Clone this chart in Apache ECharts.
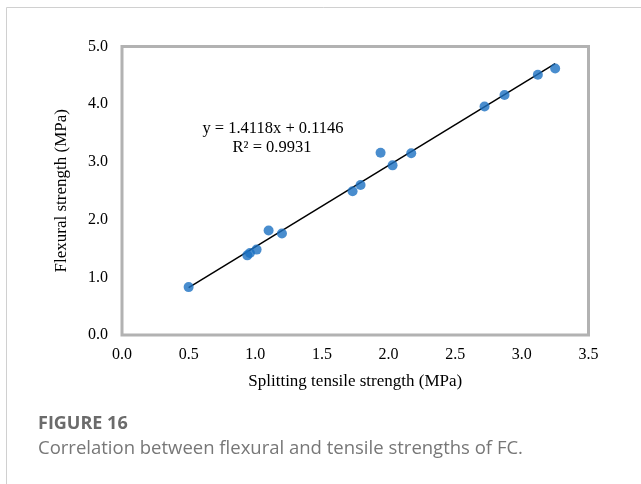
<!DOCTYPE html>
<html>
<head>
<meta charset="utf-8">
<script src="https://cdn.jsdelivr.net/npm/echarts@6/dist/echarts.min.js"></script>
<style>
  html, body { margin: 0; padding: 0; background: #fff; }
  #chart { width: 641px; height: 484px; }
</style>
</head>
<body>
<div id="chart"></div>
<script>
// Splitting tensile strength (MPa) of each specimen
const tensile = [0.50, 0.94, 0.96, 1.01, 1.10, 1.20, 1.73, 1.79, 1.94, 2.03, 2.17, 2.72, 2.87, 3.12, 3.25];
// Flexural strength (MPa) of each specimen
const flexural = [0.83, 1.38, 1.42, 1.48, 1.81, 1.76, 2.49, 2.60, 3.16, 2.94, 3.15, 3.96, 4.16, 4.51, 4.62];
// Linear fit reported on the chart
const slope = 1.4118;
const intercept = 0.1146;
const rSquared = 0.9931;
// Axis tick values
const xTicks = [0.0, 0.5, 1.0, 1.5, 2.0, 2.5, 3.0, 3.5];
const yTicks = [0.0, 1.0, 2.0, 3.0, 4.0, 5.0];

const points = tensile.map((x, i) => [x, flexural[i]]);
const xMin = Math.min(...tensile);
const xMax = Math.max(...tensile);
const fitLine = [[xMin, slope * xMin + intercept], [xMax, slope * xMax + intercept]];

const serif = '"Liberation Serif", "Times New Roman", serif';
const sans = '"Open Sans", "Noto Sans", sans-serif';
const chart = echarts.init(document.getElementById('chart'), null, { renderer: 'canvas' });

chart.setOption({
  animation: false,
  backgroundColor: '#fff',
  grid: {
    left: 122, top: 46.5, width: 466.5, height: 288.5,
    show: true, borderColor: '#b2b2b2', borderWidth: 3, backgroundColor: 'transparent'
  },
  xAxis: {
    type: 'value', min: xTicks[0], max: xTicks[xTicks.length - 1], interval: 0.5,
    axisLine: { show: false }, axisTick: { show: false }, splitLine: { show: false },
    axisLabel: { formatter: v => v.toFixed(1), fontFamily: serif, fontSize: 16, color: '#000', margin: 12 },
    name: 'Splitting tensile strength (MPa)', nameLocation: 'middle', nameGap: 38,
    nameTextStyle: { fontFamily: serif, fontSize: 17, color: '#000' }
  },
  yAxis: {
    type: 'value', min: yTicks[0], max: yTicks[yTicks.length - 1], interval: 1,
    axisLine: { show: false }, axisTick: { show: false }, splitLine: { show: false },
    axisLabel: { formatter: v => v.toFixed(1), fontFamily: serif, fontSize: 16, color: '#000', margin: 14 },
    name: 'Flexural strength (MPa)', nameLocation: 'middle', nameGap: 52,
    nameTextStyle: { fontFamily: serif, fontSize: 17, color: '#000' }
  },
  series: [
    {
      type: 'line', data: fitLine, symbol: 'none',
      lineStyle: { color: '#000', width: 1.5 }, z: 2
    },
    {
      type: 'scatter', data: points, symbol: 'circle', symbolSize: 10,
      itemStyle: { color: '#1c70c2' }, z: 3
    }
  ],
  graphic: [
    { type: 'line', shape: { x1: 6.5, y1: 7.5, x2: 641, y2: 7.5 }, style: { stroke: '#d0d0d0', lineWidth: 1 } },
    { type: 'line', shape: { x1: 6.5, y1: 7.5, x2: 6.5, y2: 484 }, style: { stroke: '#d0d0d0', lineWidth: 1 } },
    {
      type: 'text', style: {
        x: 273, y: 129, text: 'y = ' + slope.toFixed(4) + 'x + ' + intercept.toFixed(4),
        fontFamily: serif, fontSize: 16.5, fill: '#000', textAlign: 'center', textVerticalAlign: 'middle'
      }
    },
    {
      type: 'text', style: {
        x: 272, y: 148, text: 'R² = ' + rSquared.toFixed(4),
        fontFamily: serif, fontSize: 16.5, fill: '#000', textAlign: 'center', textVerticalAlign: 'middle'
      }
    },
    {
      type: 'text', style: {
        x: 38, y: 424, text: 'FIGURE 16',
        fontFamily: sans, fontWeight: 'bold', fontSize: 18,
        fill: '#6b6b6b', textVerticalAlign: 'middle'
      }
    },
    {
      type: 'text', style: {
        x: 38, y: 449, text: 'Correlation between flexural and tensile strengths of FC.',
        fontFamily: sans, fontSize: 18.5,
        fill: '#777', textVerticalAlign: 'middle'
      }
    }
  ]
});
</script>
</body>
</html>
